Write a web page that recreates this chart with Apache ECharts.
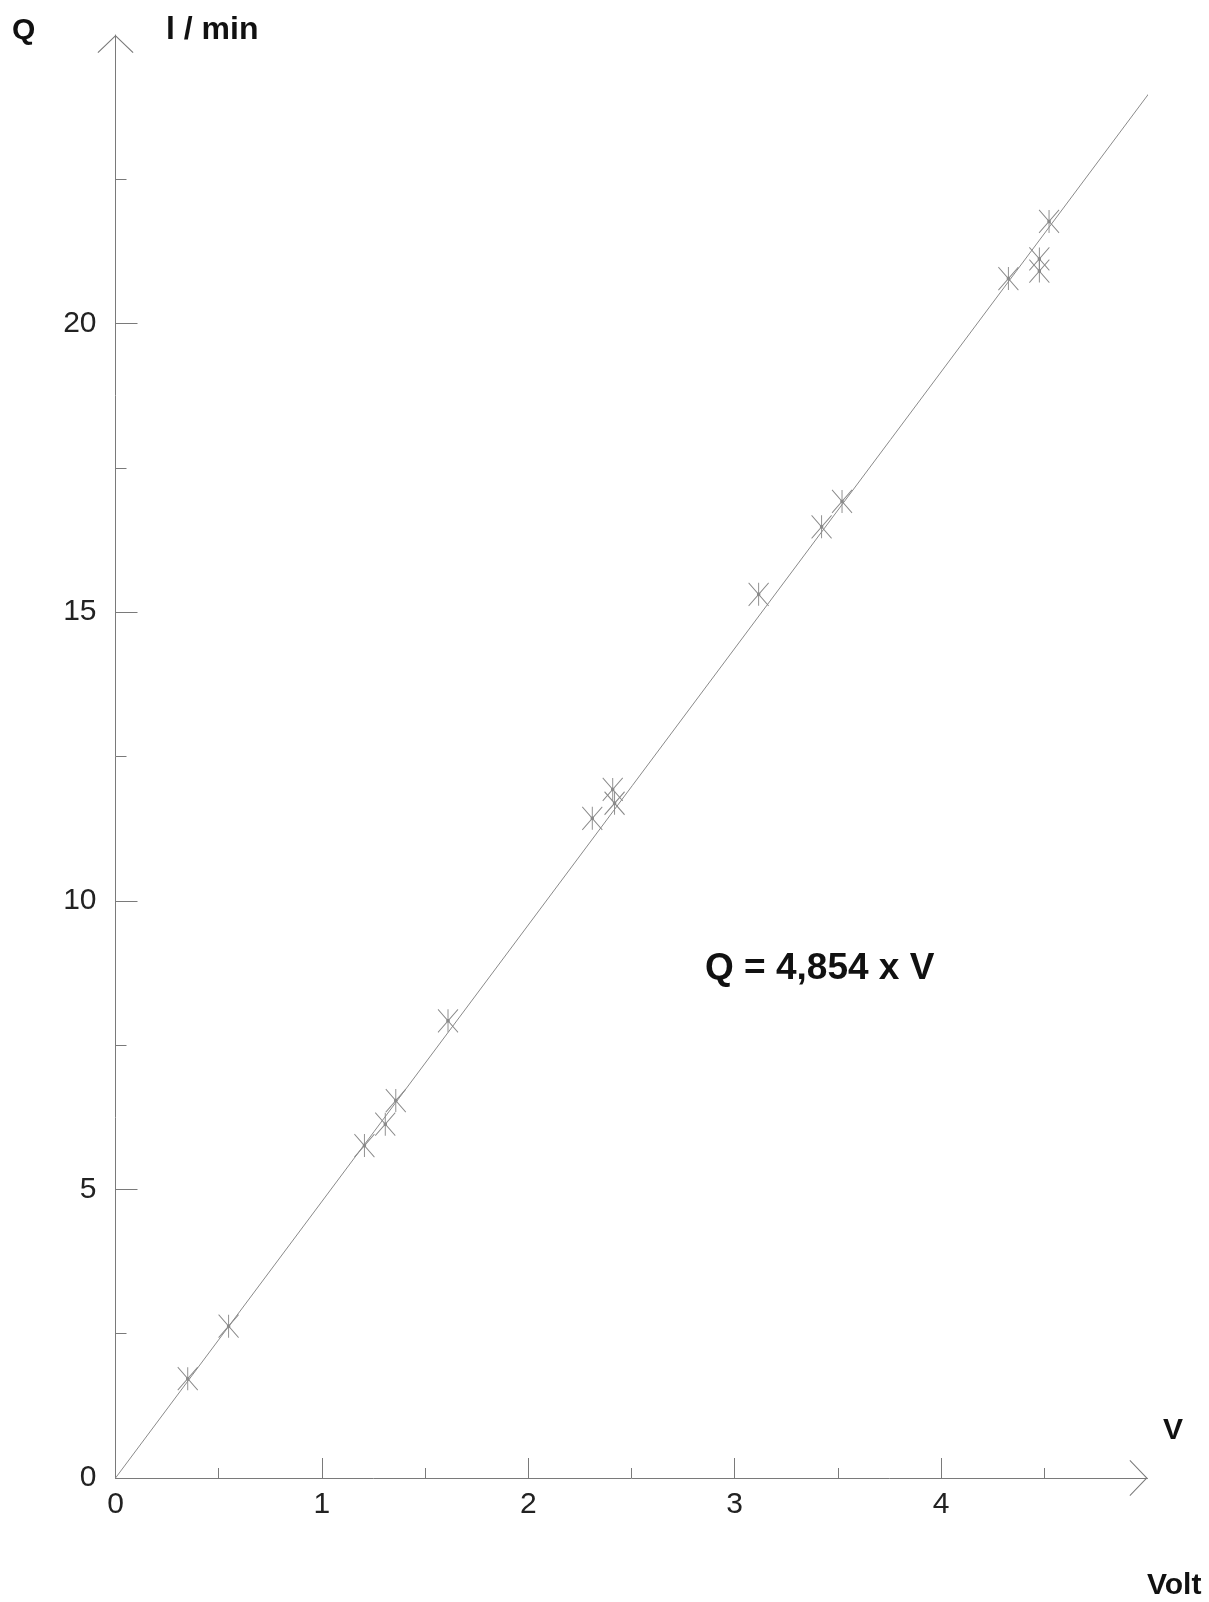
<!DOCTYPE html>
<html>
<head>
<meta charset="utf-8">
<script src="https://cdn.jsdelivr.net/npm/echarts@6/dist/echarts.min.js"></script>
<style>
html,body{margin:0;padding:0;background:#fff;}
#chart{width:1209px;height:1602px;}
</style>
</head>
<body>
<div id="chart"></div>
<script>
// Measured points: voltage V (Volt) and flow Q (l / min)
const voltage = [0.350, 0.548, 1.206, 1.307, 1.358, 1.611, 2.310, 2.409, 2.418, 3.116, 3.421, 3.520, 4.326, 4.476, 4.476, 4.523];
const flow    = [1.72, 2.63, 5.76, 6.13, 6.54, 7.92, 11.43, 11.93, 11.69, 15.31, 16.48, 16.92, 20.78, 21.12, 20.91, 21.77];

// Fitted line Q = 4,854 x V, endpoints
const fitX = [0, 5.02];
const fitY = [0, 24.05];

// Axis ticks / labels
const xTickValues = [0, 1, 2, 3, 4];
const yTickValues = [0, 5, 10, 15, 20];

const equationText = 'Q = 4,854 x V';

const chart = echarts.init(document.getElementById('chart'), null, {renderer: 'canvas'});

const axisColor = '#7a7a7a';
const chevron = 'path://M0,17.3 L18,0 L36,17.3 L35.2,18 L18,1.5 L0.8,18 Z';
const star = 'path://M0,0 L20,23 M20,0 L0,23 M10,0 L10,23 M8.8,10.3 L11.2,10.3 L11.2,12.7 L8.8,12.7 Z';
const font = '"Liberation Sans", Arial, Helvetica, sans-serif';

const scatterData = voltage.map((v, i) => [v, flow[i]]);
const lineData = fitX.map((v, i) => [v, fitY[i]]);

chart.setOption({
  animation: false,
  backgroundColor: '#ffffff',
  grid: {left: 115.5, right: 61.5, top: 35, bottom: 124, containLabel: false, outerBoundsMode: 'none'},
  xAxis: {
    type: 'value', min: 0, max: 5, interval: 1,
    splitLine: {show: false},
    axisLine: {show: true, onZero: false, lineStyle: {color: axisColor, width: 1},
      symbol: ['none', chevron], symbolSize: [36, 18], symbolOffset: [0, -9]},
    axisTick: {show: true, inside: true, length: 20, lineStyle: {color: axisColor, width: 1}, customValues: xTickValues},
    minorTick: {show: true, splitNumber: 2, length: 10, lineStyle: {color: axisColor, width: 1}},
    axisLabel: {show: true, margin: 12, color: '#222', fontSize: 30, fontFamily: font, customValues: xTickValues}
  },
  yAxis: {
    type: 'value', min: 0, max: 25, interval: 5,
    splitLine: {show: false},
    axisLine: {show: true, onZero: false, lineStyle: {color: axisColor, width: 1},
      symbol: ['none', chevron], symbolSize: [36, 18], symbolOffset: [0, -9]},
    axisTick: {show: true, inside: true, length: 22, lineStyle: {color: axisColor, width: 1}, customValues: yTickValues},
    minorTick: {show: true, splitNumber: 2, length: 11, lineStyle: {color: axisColor, width: 1}},
    axisLabel: {show: true, margin: 19, color: '#222', fontSize: 30, fontFamily: font, customValues: yTickValues}
  },
  series: [
    {
      type: 'line', data: lineData, showSymbol: false, symbol: 'none', clip: false,
      lineStyle: {color: '#8a8a8a', width: 1}, z: 2, silent: true
    },
    {
      type: 'scatter', data: scatterData, symbol: star, symbolSize: [20, 23],
      itemStyle: {color: '#333', borderColor: '#8a8a8a', borderWidth: 1, opacity: 1}, z: 3, silent: true
    }
  ],
  graphic: [
    {type: 'text', left: 12, top: 16, style: {text: 'Q', font: 'bold 30px ' + font, fill: '#111'}},
    {type: 'text', left: 166, top: 14, style: {text: 'l / min', font: 'bold 32px ' + font, fill: '#111'}},
    {type: 'text', left: 1163, top: 1416, style: {text: 'V', font: 'bold 30px ' + font, fill: '#111'}},
    {type: 'text', left: 1147, top: 1571, style: {text: 'Volt', font: 'bold 30px ' + font, fill: '#111'}},
    {type: 'text', left: 705, top: 950, style: {text: equationText, font: 'bold 37px ' + font, fill: '#111'}}
  ]
});
</script>
</body>
</html>
